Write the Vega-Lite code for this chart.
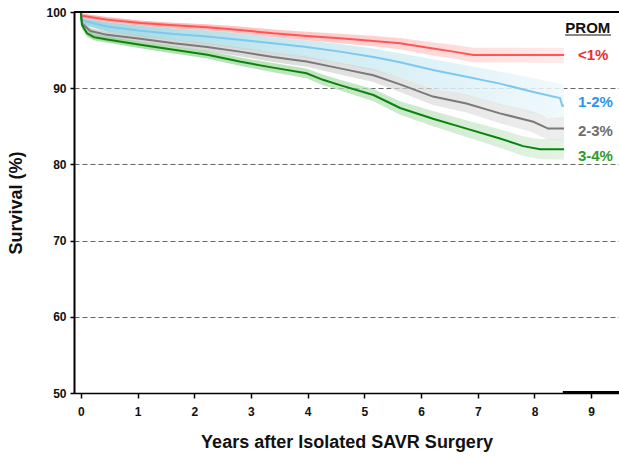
{
  "$schema": "https://vega.github.io/schema/vega-lite/v6.json",
  "autosize": {"type": "none"},
  "padding": {"left": 74, "top": 12, "right": 0, "bottom": 72},
  "width": 545,
  "height": 381,
  "background": "white",
  "config": {
    "view": {"stroke": null},
    "axis": {"labelFont": "Liberation Sans", "labelFontWeight": "bold", "labelFontSize": 12, "labelColor": "#111", "titleFont": "Liberation Sans", "titleFontWeight": "bold", "titleFontSize": 18, "titleColor": "#111", "domainColor": "#000", "tickColor": "#000"}
  },
  "datasets": {
    "km": [
      {"series": "<1%", "t": 0, "s": 100, "lo": 100, "hi": 100},
      {"series": "<1%", "t": 0.02, "s": 99.5, "lo": 99.2, "hi": 99.8},
      {"series": "<1%", "t": 0.46, "s": 99.0, "lo": 98.7, "hi": 99.35},
      {"series": "<1%", "t": 1.05, "s": 98.55, "lo": 98.2, "hi": 98.9},
      {"series": "<1%", "t": 1.64, "s": 98.25, "lo": 97.85, "hi": 98.6},
      {"series": "<1%", "t": 2.23, "s": 98.0, "lo": 97.6, "hi": 98.4},
      {"series": "<1%", "t": 2.8, "s": 97.65, "lo": 97.2, "hi": 98.1},
      {"series": "<1%", "t": 3.39, "s": 97.2, "lo": 96.7, "hi": 97.7},
      {"series": "<1%", "t": 3.98, "s": 96.85, "lo": 96.3, "hi": 97.4},
      {"series": "<1%", "t": 4.57, "s": 96.55, "lo": 95.9, "hi": 97.15},
      {"series": "<1%", "t": 5.16, "s": 96.2, "lo": 95.5, "hi": 96.85},
      {"series": "<1%", "t": 5.63, "s": 95.9, "lo": 95.1, "hi": 96.6},
      {"series": "<1%", "t": 6.21, "s": 95.2, "lo": 94.3, "hi": 96.0},
      {"series": "<1%", "t": 6.57, "s": 94.8, "lo": 93.9, "hi": 95.7},
      {"series": "<1%", "t": 6.92, "s": 94.35, "lo": 93.4, "hi": 95.3},
      {"series": "<1%", "t": 8.52, "s": 94.35, "lo": 93.3, "hi": 95.3},

      {"series": "1-2%", "t": 0, "s": 100, "lo": 100, "hi": 100},
      {"series": "1-2%", "t": 0.02, "s": 98.9, "lo": 98.4, "hi": 99.2},
      {"series": "1-2%", "t": 0.46, "s": 98.1, "lo": 97.4, "hi": 98.7},
      {"series": "1-2%", "t": 1.05, "s": 97.55, "lo": 96.8, "hi": 98.2},
      {"series": "1-2%", "t": 1.64, "s": 97.1, "lo": 96.3, "hi": 97.85},
      {"series": "1-2%", "t": 2.23, "s": 96.8, "lo": 95.8, "hi": 97.6},
      {"series": "1-2%", "t": 2.8, "s": 96.35, "lo": 95.2, "hi": 97.2},
      {"series": "1-2%", "t": 3.39, "s": 95.9, "lo": 94.6, "hi": 96.7},
      {"series": "1-2%", "t": 3.98, "s": 95.4, "lo": 94.0, "hi": 96.3},
      {"series": "1-2%", "t": 4.57, "s": 94.8, "lo": 93.2, "hi": 95.8},
      {"series": "1-2%", "t": 5.16, "s": 94.1, "lo": 92.3, "hi": 95.2},
      {"series": "1-2%", "t": 5.63, "s": 93.4, "lo": 91.4, "hi": 94.6},
      {"series": "1-2%", "t": 6.21, "s": 92.4, "lo": 90.0, "hi": 93.8},
      {"series": "1-2%", "t": 6.8, "s": 91.5, "lo": 89.0, "hi": 93.0},
      {"series": "1-2%", "t": 7.39, "s": 90.6, "lo": 87.9, "hi": 92.2},
      {"series": "1-2%", "t": 7.98, "s": 89.5, "lo": 86.6, "hi": 91.3},
      {"series": "1-2%", "t": 8.45, "s": 88.7, "lo": 85.8, "hi": 90.6},
      {"series": "1-2%", "t": 8.49, "s": 87.7, "lo": 85.8, "hi": 90.5},
      {"series": "1-2%", "t": 8.52, "s": 87.7, "lo": 85.8, "hi": 90.4},

      {"series": "2-3%", "t": 0, "s": 100, "lo": 100, "hi": 100},
      {"series": "2-3%", "t": 0.02, "s": 98.5, "lo": 98.0, "hi": 98.9},
      {"series": "2-3%", "t": 0.17, "s": 97.5, "lo": 97.0, "hi": 97.9},
      {"series": "2-3%", "t": 0.46, "s": 97.0, "lo": 96.5, "hi": 97.4},
      {"series": "2-3%", "t": 1.05, "s": 96.5, "lo": 96.0, "hi": 96.9},
      {"series": "2-3%", "t": 1.64, "s": 95.9, "lo": 95.4, "hi": 96.35},
      {"series": "2-3%", "t": 2.23, "s": 95.4, "lo": 94.85, "hi": 95.9},
      {"series": "2-3%", "t": 2.8, "s": 94.8, "lo": 94.2, "hi": 95.35},
      {"series": "2-3%", "t": 3.39, "s": 94.1, "lo": 93.45, "hi": 94.7},
      {"series": "2-3%", "t": 3.98, "s": 93.5, "lo": 92.8, "hi": 94.15},
      {"series": "2-3%", "t": 4.57, "s": 92.6, "lo": 91.8, "hi": 93.35},
      {"series": "2-3%", "t": 5.16, "s": 91.7, "lo": 90.8, "hi": 92.55},
      {"series": "2-3%", "t": 5.63, "s": 90.5, "lo": 89.5, "hi": 91.4},
      {"series": "2-3%", "t": 6.21, "s": 88.9, "lo": 87.8, "hi": 89.95},
      {"series": "2-3%", "t": 6.8, "s": 88.0, "lo": 86.8, "hi": 89.15},
      {"series": "2-3%", "t": 7.39, "s": 86.7, "lo": 85.4, "hi": 87.95},
      {"series": "2-3%", "t": 7.98, "s": 85.6, "lo": 84.2, "hi": 86.95},
      {"series": "2-3%", "t": 8.24, "s": 84.7, "lo": 83.2, "hi": 86.1},
      {"series": "2-3%", "t": 8.52, "s": 84.7, "lo": 83.1, "hi": 86.2},

      {"series": "3-4%", "t": 0, "s": 100, "lo": 100, "hi": 100},
      {"series": "3-4%", "t": 0.02, "s": 98.3, "lo": 97.8, "hi": 98.7},
      {"series": "3-4%", "t": 0.11, "s": 97.2, "lo": 96.8, "hi": 97.6},
      {"series": "3-4%", "t": 0.23, "s": 96.7, "lo": 96.3, "hi": 97.1},
      {"series": "3-4%", "t": 0.46, "s": 96.4, "lo": 96.0, "hi": 96.8},
      {"series": "3-4%", "t": 1.05, "s": 95.7, "lo": 95.25, "hi": 96.1},
      {"series": "3-4%", "t": 1.64, "s": 95.05, "lo": 94.55, "hi": 95.5},
      {"series": "3-4%", "t": 2.23, "s": 94.4, "lo": 93.9, "hi": 94.9},
      {"series": "3-4%", "t": 2.8, "s": 93.5, "lo": 92.95, "hi": 94.05},
      {"series": "3-4%", "t": 3.39, "s": 92.7, "lo": 92.1, "hi": 93.3},
      {"series": "3-4%", "t": 3.98, "s": 91.95, "lo": 91.3, "hi": 92.6},
      {"series": "3-4%", "t": 4.27, "s": 91.1, "lo": 90.4, "hi": 91.8},
      {"series": "3-4%", "t": 4.57, "s": 90.4, "lo": 89.7, "hi": 91.1},
      {"series": "3-4%", "t": 5.16, "s": 89.1, "lo": 88.3, "hi": 89.9},
      {"series": "3-4%", "t": 5.63, "s": 87.4, "lo": 86.5, "hi": 88.3},
      {"series": "3-4%", "t": 6.21, "s": 86.0, "lo": 85.0, "hi": 87.0},
      {"series": "3-4%", "t": 6.8, "s": 84.7, "lo": 83.6, "hi": 85.8},
      {"series": "3-4%", "t": 7.39, "s": 83.4, "lo": 82.2, "hi": 84.6},
      {"series": "3-4%", "t": 7.8, "s": 82.4, "lo": 81.1, "hi": 83.7},
      {"series": "3-4%", "t": 8.1, "s": 82.0, "lo": 80.7, "hi": 83.3},
      {"series": "3-4%", "t": 8.52, "s": 82.0, "lo": 80.6, "hi": 83.4}
    ],
    "labels": [
      {"lab": "<1%", "x": 8.765, "y": 94.36},
      {"lab": "1-2%", "x": 8.765, "y": 88.25},
      {"lab": "2-3%", "x": 8.765, "y": 84.4},
      {"lab": "3-4%", "x": 8.765, "y": 81.1}
    ]
  },
  "layer": [
    {
      "data": {"name": "km"},
      "transform": [{"filter": "datum.series === '1-2%'"}],
      "mark": {"type": "area", "opacity": 0.85, "color": {"gradient": "linear", "x1": 0, "y1": 0, "x2": 1, "y2": 0, "stops": [{"offset": 0, "color": "#8fd0d8"}, {"offset": 0.5, "color": "#c8e9f0"}, {"offset": 1, "color": "#eef8fc"}]}},
      "encoding": {
        "x": {"field": "t", "type": "quantitative", "scale": {"domain": [-0.12, 9.49], "nice": false, "zero": false},
              "axis": {"values": [0,1,2,3,4,5,6,7,8,9], "format": "d", "title": "Years after Isolated SAVR Surgery", "grid": false, "domainWidth": 1.5, "tickSize": 5, "tickWidth": 1.5, "labelPadding": 8, "titlePadding": 16, "labelFlush": false}},
        "y": {"field": "lo", "type": "quantitative", "scale": {"domain": [50, 100], "nice": false, "zero": false},
              "axis": {"values": [50,60,70,80,90,100], "format": "d", "title": "Survival (%)", "grid": true, "gridDash": [5, 3], "gridColor": "#666", "gridWidth": 1, "domainWidth": 2, "tickSize": 4, "tickWidth": 1.5, "labelPadding": 4, "titlePadding": 20}},
        "y2": {"field": "hi"}
      }
    },
    {
      "data": {"name": "km"},
      "transform": [{"filter": "datum.series === '<1%'"}],
      "mark": {"type": "area", "opacity": 0.8, "color": {"gradient": "linear", "x1": 0, "y1": 0, "x2": 1, "y2": 0, "stops": [{"offset": 0, "color": "#ff9e9e"}, {"offset": 0.6, "color": "#ffc4c4"}, {"offset": 1, "color": "#ffe6e6"}]}},
      "encoding": {"x": {"field": "t", "type": "quantitative"}, "y": {"field": "lo", "type": "quantitative"}, "y2": {"field": "hi"}}
    },
    {
      "data": {"name": "km"},
      "transform": [{"filter": "datum.series === '2-3%'"}],
      "mark": {"type": "area", "opacity": 0.7, "color": {"gradient": "linear", "x1": 0, "y1": 0, "x2": 1, "y2": 0, "stops": [{"offset": 0, "color": "#bdbdbd"}, {"offset": 1, "color": "#e6e6e6"}]}},
      "encoding": {"x": {"field": "t", "type": "quantitative"}, "y": {"field": "lo", "type": "quantitative"}, "y2": {"field": "hi"}}
    },
    {
      "data": {"name": "km"},
      "transform": [{"filter": "datum.series === '3-4%'"}],
      "mark": {"type": "area", "opacity": 0.75, "color": {"gradient": "linear", "x1": 0, "y1": 0, "x2": 1, "y2": 0, "stops": [{"offset": 0, "color": "#8ccf8c"}, {"offset": 0.6, "color": "#b5e0b5"}, {"offset": 1, "color": "#dcefdc"}]}},
      "encoding": {"x": {"field": "t", "type": "quantitative"}, "y": {"field": "lo", "type": "quantitative"}, "y2": {"field": "hi"}}
    },
    {
      "data": {"name": "km"},
      "mark": {"type": "line", "strokeWidth": 2, "interpolate": "linear"},
      "encoding": {
        "x": {"field": "t", "type": "quantitative"},
        "y": {"field": "s", "type": "quantitative"},
        "color": {"field": "series", "type": "nominal", "scale": {"domain": ["<1%", "1-2%", "2-3%", "3-4%"], "range": ["#ff5555", "#7cc8f2", "#7a7a7a", "#0a840a"]}, "legend": null},
        "order": {"field": "series", "sort": "ascending"}
      }
    },
    {
      "data": {"values": [{}]},
      "mark": {"type": "rule", "color": "#000", "strokeWidth": 2},
      "encoding": {"y": {"datum": 100}}
    },
    {
      "data": {"values": [{}]},
      "mark": {"type": "rule", "color": "#000", "strokeWidth": 2},
      "encoding": {"x": {"datum": 8.5}, "x2": {"datum": 9.49}, "y": {"datum": 50.12}}
    },
    {
      "data": {"values": [{}]},
      "mark": {"type": "text", "text": "PROM", "font": "Liberation Sans", "fontWeight": "bold", "fontSize": 15, "align": "center", "baseline": "middle", "color": "#111"},
      "encoding": {"x": {"datum": 8.94}, "y": {"datum": 97.9}}
    },
    {
      "data": {"values": [{}]},
      "mark": {"type": "rule", "color": "#111", "strokeWidth": 1.2},
      "encoding": {"x": {"datum": 8.54}, "x2": {"datum": 9.35}, "y": {"datum": 96.98}}
    },
    {
      "data": {"name": "labels"},
      "mark": {"type": "text", "font": "Liberation Sans", "fontWeight": "bold", "fontSize": 15, "align": "left", "baseline": "middle"},
      "encoding": {
        "x": {"field": "x", "type": "quantitative"},
        "y": {"field": "y", "type": "quantitative"},
        "text": {"field": "lab"},
        "color": {"field": "lab", "type": "nominal", "scale": {"domain": ["<1%", "1-2%", "2-3%", "3-4%"], "range": ["#e8302f", "#2b95ef", "#6e6e6e", "#2e9a2e"]}, "legend": null}
      }
    }
  ],
  "resolve": {"scale": {"color": "independent"}}
}
